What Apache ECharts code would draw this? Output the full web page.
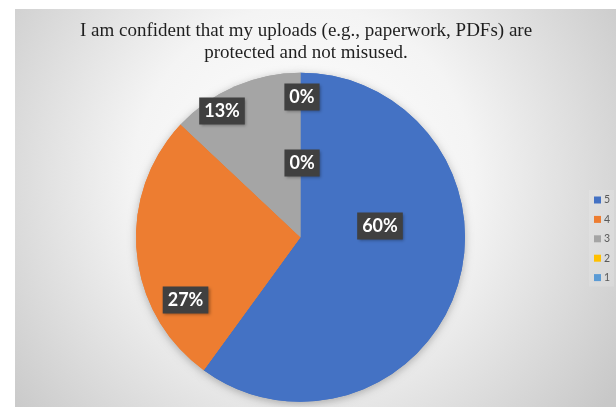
<!DOCTYPE html>
<html>
<head>
<meta charset="utf-8">
<script src="https://cdn.jsdelivr.net/npm/echarts@6/dist/echarts.min.js"></script>
<style>
  html, body { margin: 0; padding: 0; background: #ffffff; }
  #chart { width: 616px; height: 407px; }
</style>
</head>
<body>
<div id="chart"></div>
<script>
// Survey answer scale and share of responses (%)
const titleText = 'I am confident that my uploads (e.g., paperwork, PDFs) are\nprotected and not misused.';
const categories = ['5', '4', '3', '2', '1'];
const shares = [60, 27, 13, 0, 0];
const sliceColors = ['#4472C4', '#ED7D31', '#A5A5A5', '#FFC000', '#5B9BD5'];

// Where each data label sits: [angle clockwise from 12 o'clock (deg), fraction of radius]
const labelSpots = [[82, 0.488], [241.4, 0.796], [328.1, 0.903], [0.6, 0.852], [1.2, 0.451]];

const PIE_CENTER = [300.5, 237.2];
const PIE_RADIUS = 164.5;

const pieData = categories.map((name, i) => ({
  name: name,
  value: shares[i],
  itemStyle: { color: sliceColors[i] }
}));

const chart = echarts.init(document.getElementById('chart'), null, { renderer: 'canvas' });

chart.setOption({
  animation: false,
  graphic: [{
    type: 'rect',
    z: -10,
    silent: true,
    shape: { x: 15, y: 9, width: 601, height: 398 },
    style: {
      fill: {
        type: 'radial', x: 0.48, y: 0.42, r: 0.95,
        colorStops: [
          { offset: 0, color: '#ffffff' },
          { offset: 0.45, color: '#f4f4f4' },
          { offset: 0.75, color: '#dcdcdc' },
          { offset: 1, color: '#c8c8c8' }
        ]
      }
    }
  }],
  title: {
    text: titleText,
    left: 301,
    top: 15,
    textAlign: 'center',
    textStyle: {
      fontFamily: 'Liberation Serif',
      fontSize: 19,
      fontWeight: 'normal',
      color: '#1f1f1f',
      lineHeight: 22
    }
  },
  legend: {
    orient: 'vertical',
    left: 589,
    top: 190,
    padding: [4, 4, 3, 5],
    backgroundColor: 'rgba(255,255,255,0.14)',
    icon: 'rect',
    itemWidth: 7,
    itemHeight: 7,
    itemGap: 7.4,
    data: categories,
    textStyle: {
      fontFamily: 'Lato',
      fontSize: 10.5,
      lineHeight: 12,
      color: '#595959',
      padding: [0, 0, 0, -2]
    }
  },
  series: [
    {
      // soft drop shadow under the pie
      type: 'pie',
      silent: true,
      z: 1,
      center: PIE_CENTER,
      radius: PIE_RADIUS,
      startAngle: 90,
      clockwise: true,
      label: { show: false },
      labelLine: { show: false },
      itemStyle: {
        shadowBlur: 9,
        shadowOffsetY: 2,
        shadowColor: 'rgba(0,0,0,0.28)'
      },
      data: pieData
    },
    {
      type: 'pie',
      z: 2,
      center: PIE_CENTER,
      radius: PIE_RADIUS,
      startAngle: 90,
      clockwise: true,
      minShowLabelAngle: 0,
      itemStyle: { borderWidth: 0 },
      emphasis: { disabled: true },
      label: {
        show: true,
        position: 'inside',
        formatter: p => p.value + '%',
        fontFamily: 'Lato',
        fontWeight: 'bold',
        fontSize: 18,
        lineHeight: 19,
        color: '#ffffff',
        backgroundColor: '#404040',
        padding: [4, 5],
        shadowColor: 'rgba(0,0,0,0.35)',
        shadowBlur: 3,
        shadowOffsetX: 1.5,
        shadowOffsetY: 1.5
      },
      labelLine: { show: false },
      labelLayout: function (p) {
        const spot = labelSpots[p.dataIndex];
        const a = spot[0] * Math.PI / 180;
        return {
          x: PIE_CENTER[0] + spot[1] * PIE_RADIUS * Math.sin(a),
          y: PIE_CENTER[1] - spot[1] * PIE_RADIUS * Math.cos(a),
          align: 'center',
          verticalAlign: 'middle'
        };
      },
      data: pieData
    }
  ]
});
</script>
</body>
</html>
